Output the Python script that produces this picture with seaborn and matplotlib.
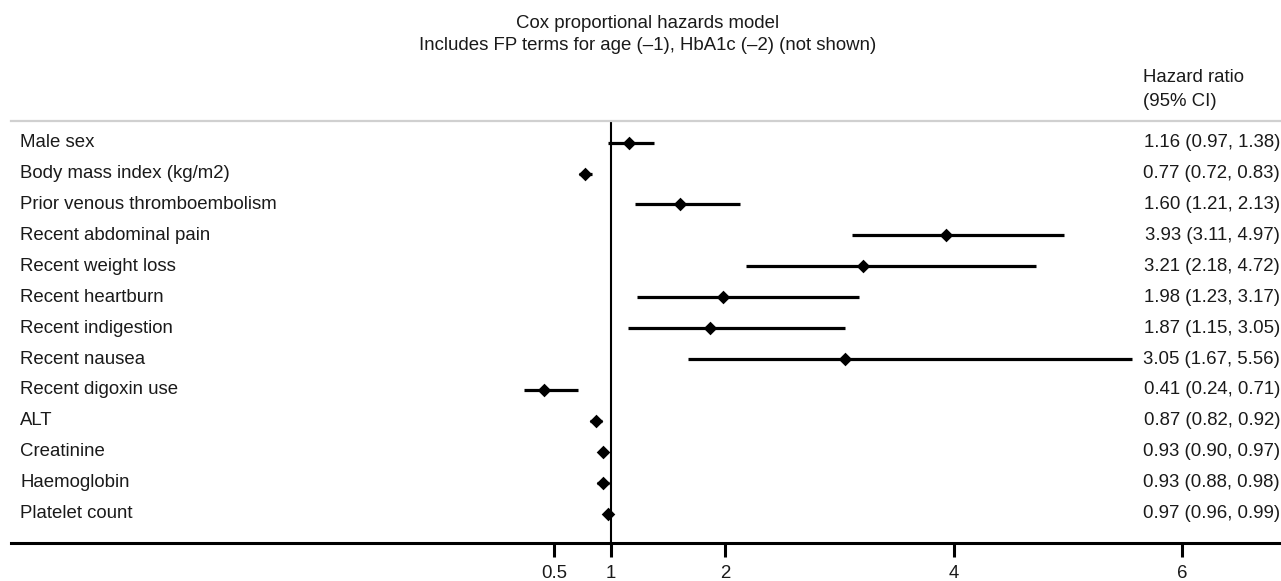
import matplotlib
matplotlib.use("Agg")
import matplotlib.pyplot as plt
import seaborn as sns
import pandas as pd

# Forest plot data
labels = [
    "Male sex",
    "Body mass index (kg/m2)",
    "Prior venous thromboembolism",
    "Recent abdominal pain",
    "Recent weight loss",
    "Recent heartburn",
    "Recent indigestion",
    "Recent nausea",
    "Recent digoxin use",
    "ALT",
    "Creatinine",
    "Haemoglobin",
    "Platelet count",
]
hr = [1.16, 0.77, 1.60, 3.93, 3.21, 1.98, 1.87, 3.05, 0.41, 0.87, 0.93, 0.93, 0.97]
lower = [0.97, 0.72, 1.21, 3.11, 2.18, 1.23, 1.15, 1.67, 0.24, 0.82, 0.90, 0.88, 0.96]
upper = [1.38, 0.83, 2.13, 4.97, 4.72, 3.17, 3.05, 5.56, 0.71, 0.92, 0.97, 0.98, 0.99]
xticks = [0.5, 1, 2, 4, 6]
xtick_labels = ["0.5", "1", "2", "4", "6"]

df = pd.DataFrame({"label": labels, "hr": hr, "lower": lower, "upper": upper})
df["row"] = range(len(df))

sns.set_style("white")
plt.rcParams["font.family"] = ["Liberation Sans", "DejaVu Sans"]
plt.rcParams["font.size"] = 13.4

W, H = 1281, 581
fig = plt.figure(figsize=(W / 100, H / 100), dpi=100)
ax = fig.add_axes([11 / W, (H - 543) / H, 1 - 11 / W, (543 - 120.7) / H])

# confidence intervals
ax.hlines(df["row"], df["lower"], df["upper"], color="black", lw=2.3, zorder=2)
# point estimates
sns.scatterplot(data=df, x="hr", y="row", marker="D", s=48, color="black",
                edgecolor="black", linewidth=0, ax=ax, zorder=3, legend=False)
ax.axvline(1, color="black", lw=1.5, zorder=1)

ax.set_xlim(1 - 600 / 114.2, 1 + 670 / 114.2)
ax.set_ylim(12 + (543 - 513.5) / 30.9, -(142.7 - 120.7) / 30.9)
ax.set_xlabel("")
ax.set_ylabel("")
ax.set_yticks([])
ax.set_xticks(xticks)
ax.set_xticklabels(xtick_labels)
ax.tick_params(axis="x", bottom=True, length=10, width=2.2, pad=6, color="black",
               labelcolor="#1a1a1a", labelsize=13.4)

for s in ["left", "right"]:
    ax.spines[s].set_visible(False)
ax.spines["bottom"].set_color("black")
ax.spines["bottom"].set_linewidth(2.2)
ax.spines["top"].set_color("#d0d0d0")
ax.spines["top"].set_linewidth(1.6)

lx = (20 - 11) / (W - 11)
for _, r in df.iterrows():
    ax.text(lx, r["row"], r["label"], transform=ax.get_yaxis_transform(),
            ha="left", va="center", color="#1a1a1a")
    ax.text(1.0 - 1 / W, r["row"], f"{r['hr']:.2f} ({r['lower']:.2f}, {r['upper']:.2f})",
            transform=ax.get_yaxis_transform(), ha="right", va="center", color="#1a1a1a")

fig.text(1143 / W, 1 - 78 / H, "Hazard ratio", ha="left", va="center", color="#1a1a1a")
fig.text(1143 / W, 1 - 102 / H, "(95% CI)", ha="left", va="center", color="#1a1a1a")
fig.text(648 / W, 1 - 24 / H, "Cox proportional hazards model", ha="center", va="center",
         color="#1a1a1a")
fig.text(648 / W, 1 - 46 / H, "Includes FP terms for age (\u20131), HbA1c (\u20132) (not shown)",
         ha="center", va="center", color="#1a1a1a")

fig.savefig("out.png", dpi=100)
